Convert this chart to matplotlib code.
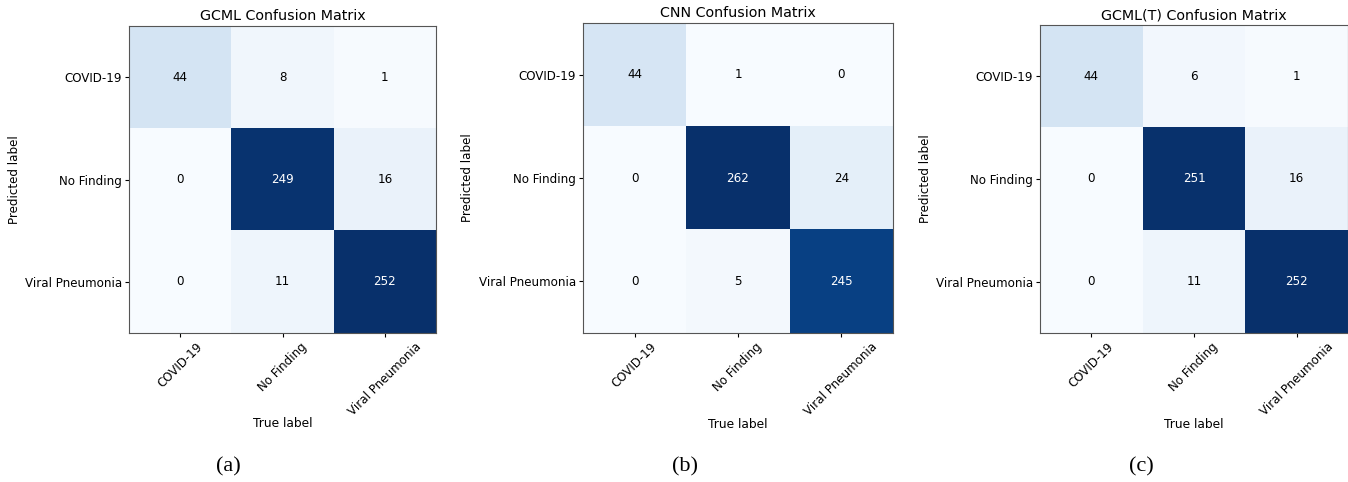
import numpy as np
import matplotlib
matplotlib.use('Agg')
import matplotlib.pyplot as plt

classes = ['COVID-19', 'No Finding', 'Viral Pneumonia']

titles = ['GCML Confusion Matrix', 'CNN Confusion Matrix', 'GCML(T) Confusion Matrix']
captions = ['(a)', '(b)', '(c)']

cm_gcml = [[44, 8, 1],
           [0, 249, 16],
           [0, 11, 252]]
cm_cnn = [[44, 1, 0],
          [0, 262, 24],
          [0, 5, 245]]
cm_gcml_t = [[44, 6, 1],
             [0, 251, 16],
             [0, 11, 252]]

W, H = 1348, 482
# axes boxes in pixels: left, top, size
boxes = [(129, 26, 307), (583, 23, 310), (1040, 25, 308)]
caption_x = [228, 685, 1141]

fig = plt.figure(figsize=(W / 100, H / 100), dpi=100)

for cm, title, cap, (left, top, size), cx in zip(
        [cm_gcml, cm_cnn, cm_gcml_t], titles, captions, boxes, caption_x):
    cm = np.array(cm)
    ax = fig.add_axes([left / W, (H - top - size) / H, size / W, size / H])
    ax.imshow(cm, interpolation='nearest', cmap=plt.cm.Blues, aspect='auto')
    ax.set_title(title, fontsize=10.3, pad=4)
    ticks = np.arange(len(classes))
    ax.set_xticks(ticks)
    ax.set_xticklabels(classes, rotation=45, fontsize=8.6)
    ax.set_yticks(ticks)
    ax.set_yticklabels(classes, fontsize=8.6)
    ax.tick_params(length=3, pad=2)
    thresh = cm.max() / 2.
    for i in range(cm.shape[0]):
        for j in range(cm.shape[1]):
            ax.text(j, i, format(cm[i, j], 'd'), ha='center', va='center',
                    fontsize=8.6,
                    color='white' if cm[i, j] > thresh else 'black')
    ax.set_xlabel('True label', fontsize=8.8)
    ax.set_ylabel('Predicted label', fontsize=8.6)
    ax.xaxis.set_label_coords(0.5, -0.275)
    ax.yaxis.set_label_coords(-0.352, 0.5)
    for s in ax.spines.values():
        s.set_color('#555555')
    fig.text(cx / W, 1 - 467 / H, cap, ha='center', va='center',
             fontsize=16, family='Liberation Serif')

fig.savefig('out.png', dpi=100)
